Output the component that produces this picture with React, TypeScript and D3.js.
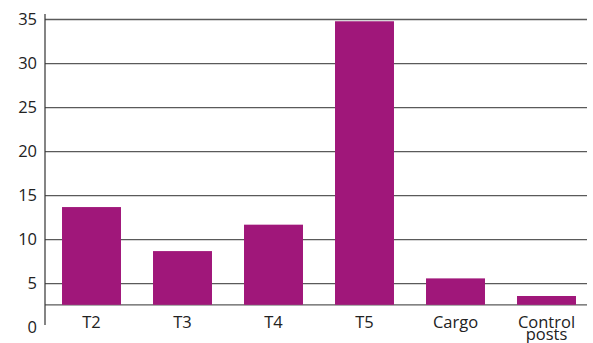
import React from "react";
import * as d3 from "d3";

const categories = ["T2", "T3", "T4", "T5", "Cargo", "Control posts"];
const values = [13.7, 8.7, 11.7, 34.8, 5.6, 3.6];
const yTicks = [0, 5, 10, 15, 20, 25, 30, 35];
const gridTicks = [5, 10, 15, 20, 25, 30, 35];
const axisBase = 2.6;

const W = 593;
const H = 343;

export default function App() {
  const y = d3.scaleLinear().domain([0, 35]).range([327.7, 19.5]);
  const x = d3
    .scaleBand<string>()
    .domain(categories)
    .range([46, 592])
    .paddingInner(0.352)
    .paddingOuter(0.176);
  const font = "'Open Sans', 'Noto Sans', sans-serif";
  const baseY = y(axisBase);
  return (
    <svg
      width={W}
      height={H}
      style={{ position: "absolute", left: 0, top: 0 }}
      fontFamily={font}
    >
      <rect width={W} height={H} fill="#fff" />
      {gridTicks.map((t) => (
        <line
          key={t}
          x1={45}
          x2={587}
          y1={y(t)}
          y2={y(t)}
          stroke="#5a5a5a"
          strokeWidth={1.3}
        />
      ))}
      <line x1={45} x2={587} y1={baseY} y2={baseY} stroke="#5a5a5a" strokeWidth={1.3} />
      <line x1={45} x2={45} y1={14} y2={325} stroke="#333" strokeWidth={1.2} />
      {values.map((v, i) => (
        <rect
          key={categories[i]}
          x={x(categories[i])}
          width={x.bandwidth()}
          y={y(v)}
          height={baseY - y(v)}
          fill="#a0177a"
        />
      ))}
      {yTicks.map((t) => (
        <text
          key={t}
          x={37}
          y={y(t)}
          dy="0.35em"
          textAnchor="end"
          fontSize={16.5}
          fill="#222"
        >
          {t}
        </text>
      ))}
      {categories.map((c) => {
        const cx = (x(c) as number) + x.bandwidth() / 2;
        const parts = c === "Control posts" ? ["Control", "posts"] : [c];
        return (
          <text key={c} x={cx} y={328} textAnchor="middle" fontSize={16.5} fill="#222">
            {parts.map((p, k) => (
              <tspan key={p} x={cx} dy={k === 0 ? 0 : 12}>
                {p}
              </tspan>
            ))}
          </text>
        );
      })}
    </svg>
  );
}
